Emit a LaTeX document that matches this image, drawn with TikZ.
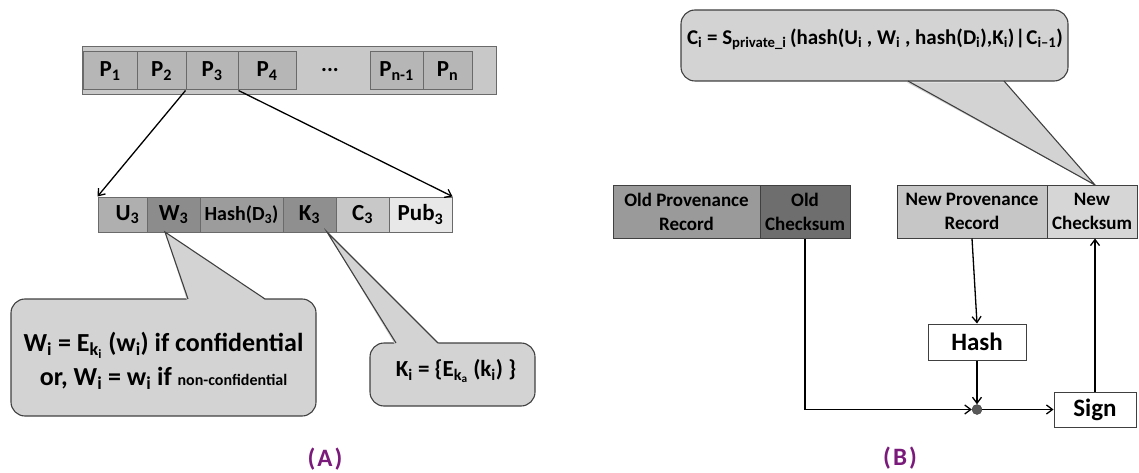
\documentclass[tikz,border=0pt]{standalone}
\usepackage{fontspec}
\setmainfont{Carlito}
\usetikzlibrary{arrows.meta}
\definecolor{bordergray}{HTML}{6A6A6A}
\definecolor{barfill}{HTML}{C8C8C8}
\definecolor{cellfill}{HTML}{B6B6B6}
\definecolor{ufill}{HTML}{AFAFAF}
\definecolor{wfill}{HTML}{8C8C8C}
\definecolor{hfill}{HTML}{9C9C9C}
\definecolor{kfill}{HTML}{8F8F8F}
\definecolor{cfill}{HTML}{C8C8C8}
\definecolor{pubfill}{HTML}{E8E8E8}
\definecolor{callfill}{HTML}{D3D3D3}
\definecolor{callline}{HTML}{404040}
\definecolor{oldprov}{HTML}{9A9A9A}
\definecolor{oldcks}{HTML}{6E6E6E}
\definecolor{newprov}{HTML}{C6C6C6}
\definecolor{newcks}{HTML}{D6D6D6}
\definecolor{labpurple}{HTML}{7A1A7A}
\newcommand{\fsz}[2]{\fontsize{#1}{#2}\selectfont}
\newcommand{\sbs}[1]{\textsubscript{#1}}
\begin{document}
\begin{tikzpicture}[x=1pt,y=-1pt,
  cell/.style={draw=bordergray, line width=1pt, inner sep=0pt, font=\fsz{23}{27}\bfseries},
  rowcell/.style={draw=bordergray, line width=1pt, inner sep=0pt, minimum height=35pt, font=\fsz{23}{27}\bfseries},
  rec/.style={draw=callline, line width=1pt, inner sep=0pt, minimum height=53pt, align=center, font=\fsz{19}{24}\bfseries},
  opbox/.style={draw=callline, fill=white, line width=1pt, inner sep=0pt, font=\fsz{25}{29}\bfseries},
  callout/.style={draw=callline, fill=callfill, line width=1.1pt, rounded corners=14pt},
  pointer/.style={draw=callline, line width=1.1pt},
  arr/.style={-{Straight Barb[length=6pt,width=9pt,line width=1.3pt]}, line width=1.3pt},
  lab/.style={text=labpurple, font=\fsz{25}{29}\bfseries}
]
\useasboundingbox (0,0) rectangle (1139,473);

% ---------- (A) top bar ----------
\node[cell, fill=barfill, minimum width=414pt, minimum height=48pt] (bar) at (289,71) {};
\node[cell, fill=cellfill, minimum width=54pt, minimum height=38pt] (p1) at (110,71) {P\sbs{1}};
\node[cell, fill=cellfill, minimum width=49pt, minimum height=38pt] (p2) at (161.5,71) {P\sbs{2}};
\node[cell, fill=cellfill, minimum width=52pt, minimum height=38pt] (p3) at (212,71) {P\sbs{3}};
\node[cell, fill=cellfill, minimum width=58pt, minimum height=38pt] (p4) at (267,71) {P\sbs{4}};
\node[font=\fsz{22}{26}\bfseries, inner sep=0pt] (dots) at (330,70) {...};
\node[cell, fill=cellfill, minimum width=53pt, minimum height=38pt] (pn1) at (396.5,71) {P\sbs{n-1}};
\node[cell, fill=cellfill, minimum width=49pt, minimum height=38pt] (pn) at (447.5,71) {P\sbs{n}};

% ---------- (A) record row ----------
\node[rowcell, fill=ufill, minimum width=49pt] (u3) at (122.5,214.5) {\hspace*{10pt}U\sbs{3}};
\node[rowcell, fill=wfill, minimum width=53pt] (w3) at (173.5,214.5) {W\sbs{3}};
\node[rowcell, fill=hfill, minimum width=83pt, font=\fsz{20}{24}\bfseries] (h3) at (241.5,214.5) {Hash(D\sbs{3})};
\node[rowcell, fill=kfill, minimum width=53pt] (k3) at (309.5,214.5) {K\sbs{3}};
\node[rowcell, fill=cfill, minimum width=53pt] (c3) at (362.5,214.5) {C\sbs{3}};
\node[rowcell, fill=pubfill, minimum width=63pt] (pub3) at (420.5,214.5) {Pub\sbs{3}};

\draw[arr] (p3.south west) -- (u3.north west);
\draw[arr] (p3.south east) -- (pub3.north east);

% ---------- (A) callouts ----------
\coordinate (wtip) at (165,232);
\draw[callout] (11,299) rectangle (316,416);
\fill[callfill] (187,300.5) -- (wtip) -- (266,300.5) -- cycle;
\draw[pointer] (188,299) -- (wtip) -- (265,299);
\node[align=center, inner sep=0pt, font=\fsz{26}{34}\bfseries] (wtext) at (163.5,361)
  {W\sbs{i} = E\sbs{k\sbs{i}} (w\sbs{i}) if confidential\\
   or, W\sbs{i} = w\sbs{i} if {\fsz{16}{20}non-confidential}};

\coordinate (ktip) at (327,232);
\draw[callout] (370,343) rectangle (535,406);
\fill[callfill] (395,344.5) -- (ktip) -- (439,344.5) -- cycle;
\draw[pointer] (396,343) -- (ktip) -- (438,343);
\node[inner sep=0pt, font=\fsz{23}{27}\bfseries] (ktext) at (456,371)
  {K\sbs{i} = \{E\sbs{k\sbs{a}} (k\sbs{i}) \}};

\node[lab] (labA) at (325,459) {(\kern2pt A\kern2pt)};

% ---------- (B) ----------
\coordinate (ctip) at (1095,185);
\draw[callout] (681,10) rectangle (1068,81);
\fill[callfill] (907,82.5) -- (ctip) -- (1005,82.5) -- cycle;
\draw[pointer] (908,81) -- (ctip) -- (1004,81);
\node[inner sep=0pt, font=\fsz{21}{25}\bfseries] (ctext) at (875,39)
  {C\sbs{i} = S\sbs{private\_i}\,(hash(U\sbs{i} , W\sbs{i} , hash(D\sbs{i}),K\sbs{i})\kern1pt|\kern1pt C\sbs{i--1})};

\node[rec, fill=oldprov, minimum width=147pt] (oprov) at (686.5,211.5) {Old Provenance\\Record};
\node[rec, fill=oldcks, minimum width=90pt] (ocks) at (805,211.5) {Old\\Checksum};
\node[rec, fill=newprov, minimum width=150pt] (nprov) at (972,211.5) {New Provenance\\Record};
\node[rec, fill=newcks, minimum width=90pt] (ncks) at (1092,211.5) {New\\Checksum};

\node[opbox, minimum width=98pt, minimum height=36pt] (hash) at (977,342) {Hash};
\node[opbox, minimum width=82pt, minimum height=35pt] (sign) at (1095,409.5) {Sign};
\node[circle, fill=black!65, draw=black!75, inner sep=0pt, minimum size=10pt] (dot) at (977,409.5) {};

\draw[arr] (ocks.south) |- (dot.west);
\draw[arr] (nprov.south) -- (hash.north);
\draw[arr] (hash.south) -- (dot.north);
\draw[arr] (dot.east) -- (sign.west);
\draw[arr] (sign.north) -- (sign.north |- ncks.south);

\node[lab] (labB) at (900,458) {(\kern2pt B\kern2pt)};
\end{tikzpicture}
\end{document}
